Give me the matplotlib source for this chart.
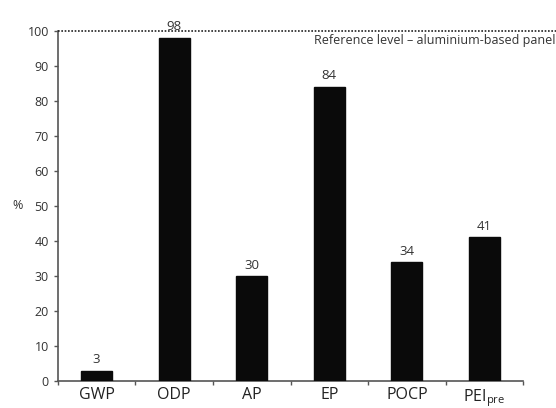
import matplotlib
matplotlib.use("Agg")
import matplotlib.pyplot as plt

categories = ["GWP", "ODP", "AP", "EP", "POCP", "PEI$_{\\mathrm{pre}}$"]
values = [3, 98, 30, 84, 34, 41]
value_labels = ["3", "98", "30", "84", "34", "41"]
reference_level = 100
yticks = list(range(0, 101, 10))

plt.rcParams['font.family'] = ['Open Sans', 'DejaVu Sans']
plt.rcParams['mathtext.fontset'] = 'custom'
plt.rcParams['mathtext.rm'] = 'Open Sans'
plt.rcParams['mathtext.it'] = 'Open Sans'

fig = plt.figure(figsize=(5.56, 4.08), dpi=100)
ax = fig.add_axes([0.104, 0.066, 0.837, 0.859])

x = list(range(len(categories)))
ax.bar(x, values, width=0.4, color="#0a0a0a", edgecolor="#0a0a0a", zorder=3)
for xi, v, lab in zip(x, values, value_labels):
    ax.text(xi, v + 1.2, lab, ha="center", va="bottom", fontsize=9.5, color="#333333")

ax.set_xlim(-0.5, 5.5)
ax.set_ylim(0, 100)
ax.set_yticks(yticks)
ax.tick_params(axis='y', labelsize=9, length=3, width=1, colors="#555555", labelcolor="#333333")
ax.set_xticks(x)
ax.set_xticklabels(categories, fontsize=11.5, color="#222222")
ax.tick_params(axis='x', length=0, pad=4)
ax.set_xticks([i + 0.5 for i in range(-1, 6)], minor=True)
ax.tick_params(axis='x', which='minor', length=3, width=1, colors="#555555")

for s in ["top", "right"]:
    ax.spines[s].set_visible(False)
for s in ["left", "bottom"]:
    ax.spines[s].set_color("#555555")
    ax.spines[s].set_linewidth(1.2)

# dotted reference line extending to figure edge
ax.plot([-0.5, 6.0], [reference_level, reference_level], linestyle=(0, (1, 1)),
        color="#222222", linewidth=1.2, clip_on=False, zorder=4)
ax.text(2.80, 97.3, "Reference level \u2013 aluminium-based panel", fontsize=9.0,
        ha="left", va="center", color="#333333", clip_on=False)

ax.set_ylabel("%", rotation=0, fontsize=9, color="#333333", va="center", ha="center")
ax.yaxis.set_label_coords(-0.086, 0.5)

fig.savefig("out.png", dpi=100)
